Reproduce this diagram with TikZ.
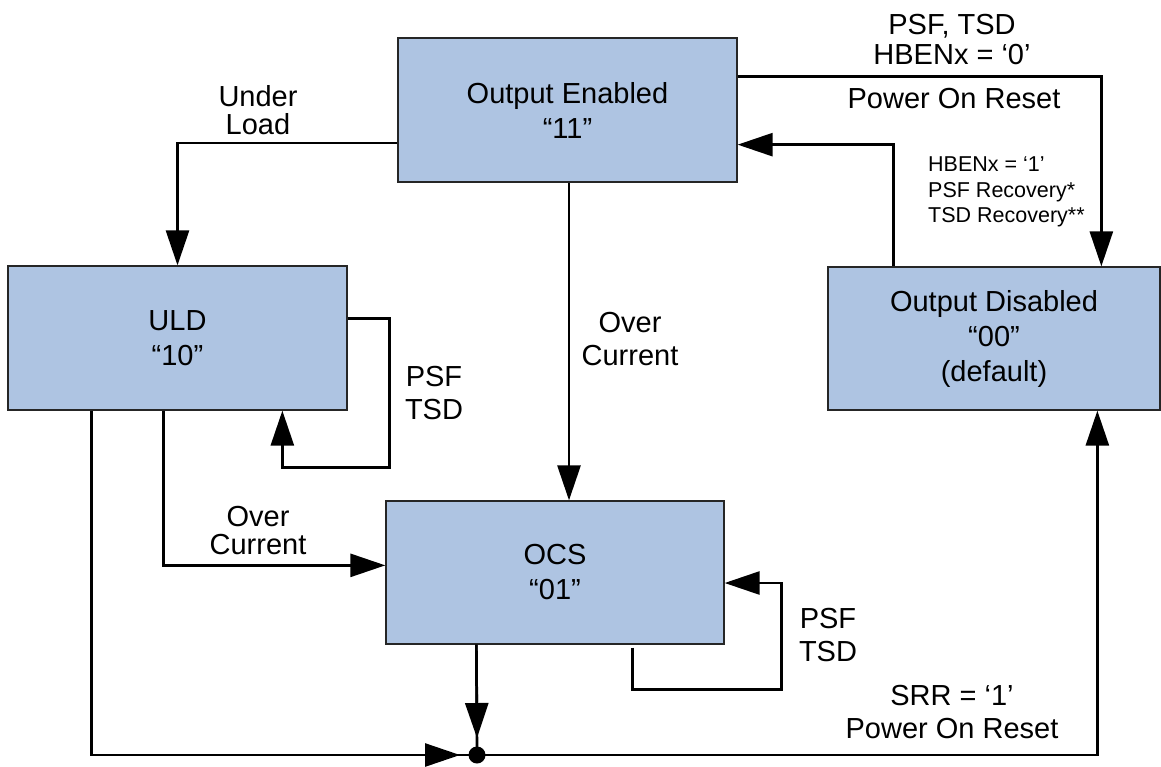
\documentclass[tikz,border=0pt]{standalone}
\usepackage{fontspec}
\setmainfont{Liberation Sans}
\usetikzlibrary{arrows.meta,calc}
\definecolor{boxfill}{RGB}{174,196,226}
\begin{document}
\begin{tikzpicture}[x=1pt,y=-1pt,
  state/.style={draw=black!85, line width=1.3pt, fill=boxfill, minimum width=339pt,
    minimum height=144pt, align=center, inner sep=0pt,
    font=\fontsize{29}{35}\selectfont},
  conn/.style={line width=2.7pt},
  arr/.style={conn, -{Triangle[length=35pt,width=23pt]}},
  lbl/.style={align=center, inner sep=0pt, font=\fontsize{29}{33}\selectfont},
  small/.style={align=left, inner sep=0pt, font=\fontsize{21.5}{25.5}\selectfont}
]
\useasboundingbox (0,0) rectangle (1161,766);

% states
\node[state] (OE) at (567.5,110) {Output Enabled\\“11”};
\node[state] (ULD) at (177.5,338) {ULD\\“10”};
\node[state, minimum width=338pt, minimum height=143pt] (OCS) at (555,572.5) {OCS\\“01”};
\node[state, minimum width=332pt, minimum height=143pt] (OD) at (994,338.5) {Output Disabled\\“00”\\(default)};

\coordinate (J) at (477,755);
\coordinate (OEs) at ($(OE.south)+(1.5,0)$);
\coordinate (ULDa) at ($(ULD.south west)+(84,0)$);
\coordinate (ULDb) at ($(ULD.south west)+(156,0)$);
\coordinate (OCSs) at ($(OCS.south west)+(91,0)$);

% OE -> OD
\draw[arr] ($(OE.north east)+(0,39)$) -| ($(OD.north west)+(274,0)$);
% OD -> OE
\draw[arr] ($(OD.north west)+(66,0)$) |- ($(OE.south east)+(0,-38)$);
% OE -> ULD
\draw[arr] ($(OE.west)+(0,33)$) -| (ULD.north);
% OE -> OCS
\draw[arr] (OEs) -- (OEs |- OCS.north);
% ULD self loop
\draw[arr] ($(ULD.north east)+(0,53)$) -- ++(42,0) -- ++(0,149) -| ($(ULD.south west)+(275,0)$);
% ULD -> OCS
\draw[arr] (ULDb) |- ($(OCS.north west)+(0,65)$);
% ULD -> junction
\draw[conn] (ULDa) |- (J);
\draw[arr] (ULDa) |- ($(J)+(-17,0)$);
% OCS -> junction
\draw[conn] (OCSs) -- (J);
\draw[arr] (OCSs) -- ($(J)+(0,-17)$);
% junction -> OD
\draw[arr] (J) -| ($(OD.south west)+(270,0)$);
% OCS self loop
\draw[arr] ($(OCS.south west)+(247,3)$) -- ++(0,42) -- ++(149,0) |- ($(OCS.east)+(0,10.5)$);

\fill (J) circle (8.5pt);

% labels
\node[lbl, font=\fontsize{29}{28}\selectfont] (l1) at (258,110) {Under\\Load};
\node[lbl, font=\fontsize{29}{30}\selectfont] (l2) at (952,40) {PSF, TSD\\HBENx = ‘0’};
\node[lbl] (l3) at (954,99) {Power On Reset};
\node[small, anchor=west] (l4) at (928,192) {HBENx = ‘1’\\PSF Recovery*\\TSD Recovery**};
\node[lbl] (l5) at (630,339) {Over\\Current};
\node[lbl] (l6) at (434,393.5) {PSF\\TSD};
\node[lbl, font=\fontsize{29}{28}\selectfont] (l7) at (258,531) {Over\\Current};
\node[lbl] (l8) at (828,635) {PSF\\TSD};
\node[lbl] (l9) at (952,712.5) {SRR = ‘1’\\Power On Reset};
\end{tikzpicture}
\end{document}
